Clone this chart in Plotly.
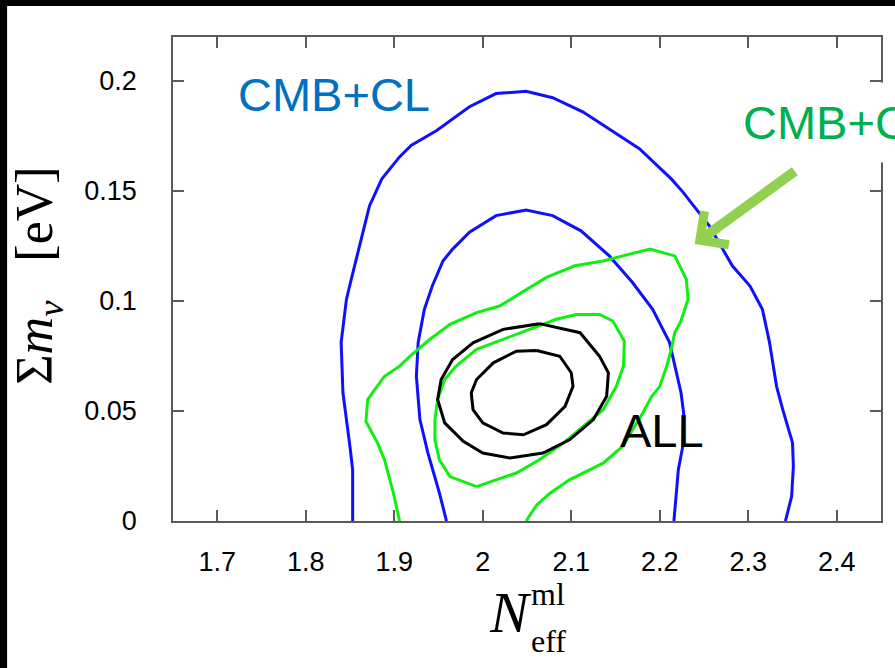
import plotly.graph_objects as go

# Confidence contours in the (N_eff^ml, sum m_nu) plane
blue_outer_x = [1.853, 1.853, 1.850, 1.842, 1.840, 1.846, 1.852, 1.864, 1.872, 1.886, 1.906, 1.919,
                1.948, 1.985, 2.015, 2.049, 2.079, 2.113, 2.143, 2.177, 2.213, 2.226, 2.256, 2.282,
                2.302, 2.316, 2.324, 2.332, 2.339, 2.350, 2.351, 2.349, 2.342]
blue_outer_y = [0.0, 0.0233, 0.0337, 0.0584, 0.0812, 0.1008, 0.1108, 0.1295, 0.1432, 0.1555, 0.1655, 0.1707,
                0.1775, 0.1883, 0.1943, 0.1953, 0.1924, 0.1860, 0.1783, 0.1692, 0.1555, 0.1496, 0.1342, 0.1160,
                0.1068, 0.0962, 0.0812, 0.0612, 0.0506, 0.0356, 0.0248, 0.0111, 0.0]

blue_inner_x = [1.959, 1.951, 1.938, 1.929, 1.925, 1.927, 1.934, 1.943, 1.955, 1.966, 1.985, 2.015,
                2.049, 2.079, 2.111, 2.143, 2.169, 2.192, 2.211, 2.224, 2.227, 2.226, 2.221, 2.219, 2.216]
blue_inner_y = [0.0, 0.0128, 0.0310, 0.0461, 0.0658, 0.0812, 0.0962, 0.1068, 0.1182, 0.1236, 0.1313, 0.1388,
                0.1414, 0.1388, 0.1319, 0.1205, 0.1085, 0.0962, 0.0812, 0.0584, 0.0492, 0.0339, 0.0233, 0.0128, 0.0]

green_outer_x = [1.906, 1.899, 1.889, 1.881, 1.868, 1.870, 1.878, 1.889, 1.906, 1.918, 1.940, 1.963,
                 1.993, 2.019, 2.047, 2.072, 2.104, 2.136, 2.166, 2.189, 2.217, 2.230, 2.232, 2.224,
                 2.217, 2.213, 2.208, 2.200, 2.191, 2.181, 2.158, 2.136, 2.098, 2.076, 2.061, 2.049]
green_outer_y = [0.0, 0.0128, 0.0278, 0.0356, 0.0453, 0.0552, 0.0597, 0.0658, 0.0704, 0.0749, 0.0825, 0.0894,
                 0.0947, 0.0977, 0.1046, 0.1107, 0.1160, 0.1182, 0.1213, 0.1236, 0.1205, 0.1099, 0.1008, 0.0909,
                 0.0857, 0.0780, 0.0704, 0.0612, 0.0567, 0.0492, 0.0339, 0.0263, 0.0187, 0.0126, 0.0073, 0.0]

green_inner_x = [1.993, 1.963, 1.951, 1.946, 1.946, 1.949, 1.957, 1.970, 1.993, 2.023, 2.053, 2.083,
                 2.106, 2.132, 2.147, 2.160, 2.159, 2.151, 2.136, 2.113, 2.091, 2.064, 2.038, 2.015, 1.993]
green_inner_y = [0.0156, 0.0202, 0.0278, 0.0369, 0.0461, 0.0552, 0.0643, 0.0704, 0.0780, 0.0825, 0.0871, 0.0917,
                 0.0939, 0.0939, 0.0909, 0.0818, 0.0704, 0.0612, 0.0506, 0.0430, 0.0354, 0.0278, 0.0218, 0.0187, 0.0156]

black_outer_x = [2.064, 2.110, 2.132, 2.142, 2.140, 2.125, 2.098, 2.068, 2.031, 2.000, 1.978, 1.957,
                 1.949, 1.953, 1.966, 1.989, 2.023, 2.064]
black_outer_y = [0.0897, 0.0856, 0.0749, 0.0674, 0.0567, 0.0461, 0.0369, 0.0309, 0.0286, 0.0309, 0.0362, 0.0446,
                 0.0552, 0.0643, 0.0734, 0.0810, 0.0871, 0.0897]

black_inner_x = [2.061, 2.087, 2.100, 2.102, 2.093, 2.072, 2.046, 2.023, 2.000, 1.989, 1.987, 1.993,
                 2.012, 2.038, 2.061]
black_inner_y = [0.0775, 0.0749, 0.0674, 0.0612, 0.0521, 0.0438, 0.0392, 0.0400, 0.0446, 0.0506, 0.0582, 0.0643,
                 0.0719, 0.0772, 0.0775]

x_ticks = [1.7, 1.8, 1.9, 2.0, 2.1, 2.2, 2.3, 2.4]
x_tick_labels = ["1.7", "1.8", "1.9", "2", "2.1", "2.2", "2.3", "2.4"]
y_ticks = [0, 0.05, 0.1, 0.15, 0.2]
y_tick_labels = ["0", "0.05", "0.1", "0.15", "0.2"]

BLUE = "#1010ff"
GREEN = "#10f010"
BLACK = "#000000"
AXIS = "#5a5a5a"
LW = 3.0

fig = go.Figure()
for xs, ys, col in [
    (blue_outer_x, blue_outer_y, BLUE),
    (blue_inner_x, blue_inner_y, BLUE),
    (green_outer_x, green_outer_y, GREEN),
    (green_inner_x, green_inner_y, GREEN),
    (black_outer_x, black_outer_y, BLACK),
    (black_inner_x, black_inner_y, BLACK),
]:
    fig.add_trace(go.Scatter(x=xs, y=ys, mode="lines",
                             line=dict(color=col, width=LW), hoverinfo="skip", showlegend=False))

tick_font = dict(family="Liberation Sans, Arial, sans-serif", size=27, color="black")
axis_common = dict(showline=True, linecolor=AXIS, linewidth=1.6, mirror="ticks",
                   ticks="inside", ticklen=11, tickwidth=1.6, tickcolor=AXIS,
                   showgrid=False, zeroline=False, tickfont=tick_font)

fig.update_xaxes(range=[1.65, 2.45], tickvals=x_ticks, ticktext=x_tick_labels,
                 ticklabelstandoff=16, **axis_common)
fig.update_yaxes(range=[0, 0.22], tickvals=y_ticks, ticktext=y_tick_labels,
                 ticklabelstandoff=29, **axis_common)

sans = "Liberation Sans, Arial, sans-serif"
serif = "Liberation Serif, Times New Roman, serif"

annotations = [
    dict(text="CMB+CL", x=0.0883, y=0.8818, xref="paper", yref="paper", xanchor="left", yanchor="middle",
         showarrow=False, font=dict(family=sans, size=47, color="#0070c0")),
    dict(text="ALL", x=0.628, y=0.188, xref="paper", yref="paper", xanchor="left", yanchor="middle",
         showarrow=False, font=dict(family=sans, size=47, color="black")),
    dict(text="CMB+CL+BAO", x=0.7854, y=0.8233, xref="paper", yref="paper", xanchor="left", yanchor="middle",
         showarrow=False, bgcolor="white", borderpad=13,
         font=dict(family=sans, size=47, color="#00b050")),
    # arrow pointing at the green contours
    dict(text=" ", x=2.2395, y=0.1259, ax=2.356, ay=0.160, xref="x", yref="y", axref="x", ayref="y",
         showarrow=True, arrowhead=4, arrowsize=0.8, arrowwidth=10, arrowcolor="#92d050"),
    # axis titles
    dict(text="Σ<i>m</i><sub><i>ν</i></sub>   [eV]", x=-0.1892, y=0.507, xref="paper", yref="paper",
         xanchor="center", yanchor="middle", textangle=-90, showarrow=False,
         font=dict(family=serif, size=52, color="black")),
    dict(text="<i>N</i>", x=0.476, y=-0.189, xref="paper", yref="paper", xanchor="center", yanchor="middle",
         showarrow=False, font=dict(family=serif, size=58, color="black")),
    dict(text="ml", x=0.530, y=-0.150, xref="paper", yref="paper", xanchor="center", yanchor="middle",
         showarrow=False, font=dict(family=serif, size=32, color="black")),
    dict(text="eff", x=0.530, y=-0.247, xref="paper", yref="paper", xanchor="center", yanchor="middle",
         showarrow=False, font=dict(family=serif, size=32, color="black")),
]

# dark frame strips along the top and left edges of the page
shapes = [
    dict(type="rect", xref="paper", yref="paper", x0=-0.4, x1=-0.2343, y0=-0.5, y1=1.3,
         fillcolor="black", line=dict(width=0), layer="above"),
    dict(type="rect", xref="paper", yref="paper", x0=-0.4, x1=1.2, y0=1.0640, y1=1.3,
         fillcolor="black", line=dict(width=0), layer="above"),
]

fig.update_layout(width=895, height=668, autosize=False,
                  margin=dict(l=173, r=12, t=37, b=147),
                  paper_bgcolor="white", plot_bgcolor="white",
                  annotations=annotations, shapes=shapes)

fig.write_html("out.html", config={"displayModeBar": False})
